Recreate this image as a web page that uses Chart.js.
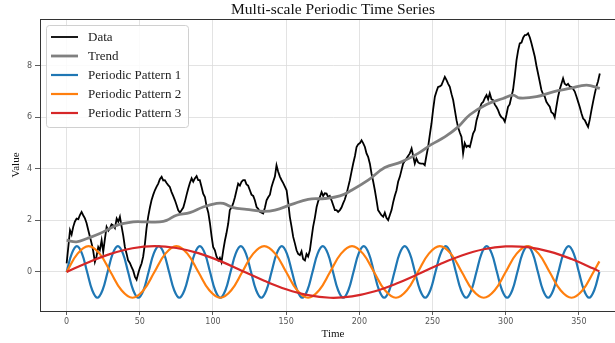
<!DOCTYPE html>
<html><head><meta charset="utf-8">
<script src="https://cdn.jsdelivr.net/npm/chart.js@4.4.1/dist/chart.umd.min.js"></script>
<style>html,body{margin:0;padding:0;background:#fff;overflow:hidden}canvas{display:block}</style>
</head><body>
<canvas id="c" width="640" height="343"></canvas>
<script>
var SERIF = '"Liberation Serif","DejaVu Serif",serif';
var xTicks = [0, 50, 100, 150, 200, 250, 300, 350];
var yTicks = [0, 2, 4, 6, 8];
var labels = ['Data', 'Trend', 'Periodic Pattern 1', 'Periodic Pattern 2', 'Periodic Pattern 3'];

var dataDays = [0,1.2,2.3,3.4,4.5,5.6,6.8,8,9,10.2,11.3,12.5,13.6,14.8,16,17.1,18.2,19.3,20.4,21.6,22.7,23.9,25,26.2,27.3,28.5,29.6,30.7,31.8,33,34.2,35.3,36.4,37.6,38.7,39.8,41,42,43.2,44.4,45.5,46.7,47.8,48.9,50,51.2,52.3,53.5,54.6,55.7,56.9,58,59.2,60.3,61.4,62.6,63.7,64.9,66,67.1,68.3,69.4,70.5,71.7,72.8,74,75.1,76.2,77.4,78.6,79.7,80.8,82,83.1,84.2,85.4,86.5,87.6,88.8,89.9,91,92.2,93.3,94.5,95.6,96.8,97.9,99,100.1,101.3,102.4,103.6,104.7,105.8,107,108.1,109.2,110.4,111.5,112.7,113.8,115,116.1,117.2,118.4,119.5,120.6,121.8,122.9,124,125.2,126.3,127.5,128.6,129.8,130.9,132,133.2,134.3,135.5,136.6,137.7,138.9,140,141.1,142.3,143.4,144.5,145.7,146.9,148,149.2,150.3,151.4,152.5,153.7,154.8,156,157.1,158.2,159.4,160.5,161.6,162.8,163.9,165,166.2,167.3,168.4,169.6,170.8,171.9,173,174.2,175.3,176.4,177.6,178.7,179.8,181,182.1,183.3,184.4,185.5,186.7,187.8,188.9,190,191.3,192.4,193.5,194.7,195.8,197,198.1,199.2,200.4,201.5,202.6,203.8,204.9,206,207.2,208.3,209.5,210.6,211.7,212.8,214,215.1,216.3,217.4,218.5,219.7,220.8,222,223.1,224.2,225.4,226.5,227.7,228.8,229.9,231,232.2,233.3,234.5,235.7,236.8,237.9,239,240.2,241.3,242.4,243.6,244.7,245.8,247,248.1,249.3,250.4,251.6,252.7,253.8,255,256.1,257.2,258.4,259.5,260.7,261.8,263,264.1,265.2,266.4,267.5,268.7,269.8,270.9,272,273.2,274.3,275.5,276.6,277.7,278.9,280.1,281.2,282.3,283.5,284.6,285.8,286.9,288,289.1,290.3,291.4,292.5,293.7,294.8,296,297.1,298.2,299.4,300.5,301.6,302.7,303.9,305,306.2,307.4,308.5,309.6,310.8,312,313.1,314.2,315.3,316.5,317.6,318.8,319.9,321,322.1,323.2,324.4,325.5,326.7,327.8,329,330.1,331.2,332.4,333.5,334.6,335.8,337,338.1,339.2,340.3,341.5,342.6,343.8,345,346.1,347.2,348.4,349.5,350.6,351.8,352.9,354,355.2,356.3,357.4,358.6,359.7,360.9,362,363.1,364.3];
var dataValues = [0.33,1.0,1.62,1.45,1.75,1.95,2.07,2.05,2.2,2.33,2.2,2.08,1.9,1.62,1.35,1.1,0.8,0.39,0.6,0.97,0.85,1.23,0.78,1.3,1.75,1.6,1.69,1.85,1.81,1.7,2.07,1.95,2.14,1.75,1.4,0.97,0.7,0.45,0.35,0.19,0.05,-0.19,-0.3,-0.06,0.15,0.33,0.6,1.1,1.7,2.14,2.5,2.78,3.0,3.17,3.3,3.43,3.6,3.69,3.55,3.56,3.45,3.37,3.3,3.1,2.95,2.78,2.6,2.4,2.3,2.4,2.5,2.72,3.0,3.24,3.45,3.63,3.5,3.63,3.72,3.56,3.56,3.3,3.04,2.91,2.55,2.3,1.9,1.4,0.97,0.84,0.6,0.45,0.55,0.38,0.84,1.2,1.5,1.88,2.4,2.5,2.66,2.9,3.17,3.43,3.35,3.5,3.56,3.56,3.4,3.35,3.17,3.0,2.95,2.78,2.52,2.45,2.33,2.3,2.27,2.5,2.78,2.9,3.0,3.3,3.5,3.7,4.14,3.9,3.7,3.56,3.45,3.3,3.17,2.7,2.14,1.75,1.36,1.1,0.84,0.7,0.65,0.8,0.5,0.45,0.7,0.6,0.84,1.3,1.75,2.1,2.52,2.75,2.9,3.1,2.95,3.05,3.04,2.9,2.95,2.78,2.6,2.4,2.4,2.33,2.4,2.5,2.66,2.8,3.04,3.3,3.56,3.9,4.21,4.5,4.85,4.95,5.0,5.11,5.0,4.85,4.6,4.47,4.2,3.82,3.5,3.17,2.8,2.4,2.3,2.2,2.14,2.3,2.1,2.01,2.2,2.4,2.7,2.95,3.17,3.5,3.7,3.95,4.2,4.3,4.4,4.5,4.6,4.79,4.5,4.21,4.4,4.25,4.21,4.2,4.2,4.14,4.5,4.85,5.3,5.76,6.3,6.8,7.0,7.18,7.2,7.25,7.4,7.57,7.45,7.3,7.18,6.9,6.67,6.3,5.89,5.6,5.4,5.24,4.6,5.0,4.85,4.9,4.85,5.1,5.37,5.5,5.89,6.1,6.35,6.54,6.6,6.75,6.86,6.7,6.93,6.7,6.67,6.5,6.4,6.28,6.1,6.0,5.96,5.83,6.1,6.41,6.5,6.8,7.06,7.6,8.22,8.6,8.87,8.9,9.1,9.19,9.2,9.26,9.1,8.87,8.6,8.35,8.0,7.7,7.4,7.06,6.9,6.8,6.6,6.5,6.41,6.2,6.15,6.0,6.4,6.8,7.1,7.3,7.51,7.3,7.25,7.3,7.2,7.18,7.1,7.0,6.8,6.6,6.4,6.15,5.95,5.89,5.75,5.63,5.9,6.28,6.6,6.93,7.2,7.4,7.7];

var trendDays = [0,6.8,14,22.7,34.2,45.5,54.6,63.7,68.3,75.1,84.2,93.3,102.5,107,113.8,122.9,134.3,142.3,153.7,165,176.4,186.7,194.7,206,217.4,228.8,240.2,249.3,258.4,267.5,275.5,286.9,298.2,305,309.6,321,332.4,343.8,355.2,364.3];
var trendValues = [1.23,1.17,1.3,1.49,1.81,1.94,1.94,1.94,2.0,2.2,2.3,2.52,2.66,2.66,2.5,2.43,2.35,2.4,2.62,2.82,2.85,2.95,3.17,3.56,4.05,4.27,4.6,4.95,5.24,5.63,6.1,6.5,6.73,6.86,6.75,6.8,6.99,7.12,7.25,7.12];

// pattern 1 sampled every 3.5 days
var p1Step = 3.5;
var p1Values = [0,.71,1,.71,0,-.71,-1,-.71, 0,.71,1,.71,0,-.71,-1,-.71, 0,.71,1,.71,0,-.71,-1,-.71, 0,.71,1,.71,0,-.71,-1,-.71,
  0,.71,1,.71,0,-.71,-1,-.71, 0,.71,1,.71,0,-.71,-1,-.71, 0,.71,1,.71,0,-.71,-1,-.71, 0,.71,1,.71,0,-.71,-1,-.71,
  0,.71,1,.71,0,-.71,-1,-.71, 0,.71,1,.71,0,-.71,-1,-.71, 0,.71,1,.71,0,-.71,-1,-.71, 0,.71,1,.71,0,-.71,-1,-.71,
  0,.71,1,.71,0,-.71,-1,-.71, 0];
// pattern 2 sampled every 7.5 days, last point at day 364
var p2Step = 7.5;
var p2Values = [0,.71,1,.71,0,-.71,-1,-.71, 0,.71,1,.71,0,-.71,-1,-.71, 0,.71,1,.71,0,-.71,-1,-.71,
  0,.71,1,.71,0,-.71,-1,-.71, 0,.71,1,.71,0,-.71,-1,-.71, 0,.71,1,.71,0,-.71,-1,-.71, 0, .41];
// pattern 3 sampled every 15 days, last point at day 364
var p3Step = 15;
var p3Values = [0,.38,.70,.92,1.0,.93,.73,.42,.04,-.34,-.67,-.90,-1.0,-.95,-.76,-.46,-.09,.30,.64,.88,.99,.96,.79,.50,.13,.02];

function pts(days, vals) {
  return vals.map(function(v, i){ return { x: days[i], y: v }; });
}
function gridDays(step, n, last) {
  var d = [];
  for (var i = 0; i < n; i++) d.push(i * step);
  if (last !== undefined) d[n - 1] = last;
  return d;
}

var COLS = ['#000000', '#808080', '#1f77b4', '#ff7f0e', '#d62728'];
var WIDTHS = [1.8, 2.8, 2.2, 2.2, 2.2];

var framePlugin = {
  id: 'frame',
  afterDraw: function(chart) {
    var ctx = chart.ctx, a = chart.chartArea;
    ctx.save();
    ctx.strokeStyle = '#333';
    ctx.lineWidth = 1;
    ctx.strokeRect(a.left + 0.5, a.top + 0.5, a.right - a.left, a.bottom - a.top);
    // title
    ctx.fillStyle = '#111';
    ctx.font = '15.5px ' + SERIF;
    ctx.textAlign = 'center';
    ctx.textBaseline = 'middle';
    ctx.fillText('Multi-scale Periodic Time Series', (a.left + a.right) / 2, 10);
    // legend
    var bx = a.left + 6, by = a.top + 6, bw = 142, bh = 102;
    ctx.fillStyle = 'rgba(255,255,255,0.85)';
    ctx.strokeStyle = '#d0d0d0';
    ctx.beginPath();
    ctx.roundRect(bx + 0.5, by + 0.5, bw, bh, 3);
    ctx.fill();
    ctx.stroke();
    ctx.font = '13px ' + SERIF;
    ctx.textAlign = 'left';
    chart.data.datasets.forEach(function(ds, i) {
      var y = by + 12 + i * 19;
      ctx.strokeStyle = ds.borderColor;
      ctx.lineWidth = ds.borderWidth;
      ctx.beginPath();
      ctx.moveTo(bx + 5, y);
      ctx.lineTo(bx + 32, y);
      ctx.stroke();
      ctx.fillStyle = '#222';
      ctx.fillText(ds.label, bx + 42, y + 1);
    });
    ctx.restore();
  }
};

var series = [
  pts(dataDays, dataValues),
  pts(trendDays, trendValues),
  pts(gridDays(p1Step, p1Values.length), p1Values),
  pts(gridDays(p2Step, p2Values.length, 364), p2Values),
  pts(gridDays(p3Step, p3Values.length, 364), p3Values)
];
var tensions = [0, 0.4, 0.4, 0.4, 0.4];

new Chart(document.getElementById('c'), {
  type: 'line',
  data: {
    datasets: series.map(function(s, i) {
      return {
        label: labels[i], data: s, borderColor: COLS[i], backgroundColor: COLS[i],
        borderWidth: WIDTHS[i], pointRadius: 0, tension: tensions[i], fill: false,
        order: 5 - i
      };
    })
  },
  plugins: [framePlugin],
  options: {
    responsive: false, animation: false, devicePixelRatio: 1,
    layout: { padding: { top: 19, right: 14, left: 0, bottom: 0 } },
    plugins: { legend: { display: false }, tooltip: { enabled: false }, title: { display: false } },
    scales: {
      x: {
        type: 'linear', min: -18.2, max: 382.2,
        afterBuildTicks: function(s){ s.ticks = xTicks.map(function(v){ return { value: v }; }); },
        afterFit: function(s){ s.height = 32; },
        grid: { color: '#dcdcdc', lineWidth: 0.8, tickLength: 4, tickColor: '#333' },
        border: { display: true, color: '#333', width: 1 },
        ticks: { color: '#555', padding: 2, maxRotation: 0, autoSkip: false,
                 font: { family: 'DejaVu Sans', size: 8 } },
        title: { display: true, text: 'Time', color: '#111', padding: { top: 0, bottom: 2 },
                 font: { family: SERIF, size: 11 } }
      },
      y: {
        type: 'linear', min: -1.515, max: 9.815,
        afterBuildTicks: function(s){ s.ticks = yTicks.map(function(v){ return { value: v }; }); },
        afterFit: function(s){ s.width = 40; },
        grid: { color: '#dcdcdc', lineWidth: 0.8, tickLength: 5, tickColor: '#333' },
        border: { display: true, color: '#333', width: 1 },
        ticks: { color: '#555', padding: 3, font: { family: 'DejaVu Sans', size: 8 } },
        title: { display: true, text: 'Value', color: '#111', padding: { top: 10, bottom: 0 },
                 font: { family: SERIF, size: 11 } }
      }
    }
  }
});
</script></body></html>
